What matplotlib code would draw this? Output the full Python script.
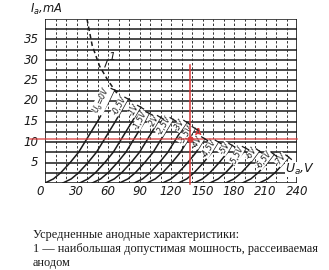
import numpy as np
import matplotlib
matplotlib.use("Agg")
import matplotlib.pyplot as plt
from matplotlib.lines import Line2D

# ── Data ─────────────────────────────────────────────────────────────────────
grid_labels = ["U$_g$=0V", "-0,5V", "-1V", "-1,5V", "-2V", "-2,5V", "-3V",
               "-3,5V", "-4V", "-4,5V", "-5V", "-5,5V", "-6V", "-6,5V", "-7V"]

# anode current (mA) and anode voltage (V) along each curve
curve_ia = [
    [0, 1, 2.5, 5, 7.5, 10, 12.5, 15, 17.5, 20, 22.7],
    [0, 1, 2.5, 5, 7.5, 10, 12.5, 15, 17.5, 20.5],
    [0, 1, 2.5, 5, 7.5, 10, 12.5, 15, 18.5],
    [0, 1, 2.5, 5, 7.5, 10, 12.5, 15, 17],
    [0, 1, 2.5, 5, 7.5, 10, 12.5, 16],
    [0, 1, 2.5, 5, 7.5, 10, 12.5, 15.5],
    [0, 1, 2.5, 5, 7.5, 10, 12.5, 14.8],
    [0, 1, 2.5, 5, 7.5, 10, 13.3],
    [0, 1, 2.5, 5, 7.5, 10.8],
    [0, 1, 2.5, 5, 7.5, 10],
    [0, 1, 2.5, 5, 7.5, 9.2],
    [0, 1, 2.5, 5, 7.5, 8.5],
    [0, 1, 2.5, 5, 7.8],
    [0, 1, 2.5, 5, 7],
    [0, 1, 2.5, 5, 6.3],
]
curve_ua = [
    [0, 8, 15, 24, 32, 38, 44, 50, 55.5, 61, 66],
    [17, 25, 32, 41, 49, 55, 61, 67, 72.5, 79],
    [33, 41, 48, 57, 65, 71, 77, 83, 91],
    [45, 53, 60, 69, 77, 83, 89, 95, 99],
    [58, 66, 73, 82, 90, 96, 102, 110],
    [71, 79, 86, 95, 103, 109, 115, 122],
    [85, 93, 100, 109, 117, 123, 129, 135],
    [97, 105, 112, 121, 129, 135, 143],
    [112, 120, 127, 136, 144, 152],
    [127, 135, 142, 151, 159, 165],
    [142, 150, 157, 166, 174, 178],
    [157, 165, 172, 181, 189, 191],
    [172, 180, 187, 196, 204],
    [188, 196, 203, 212, 218],
    [204, 212, 219, 228, 232],
]

# curve 1 - max. anode dissipation
limit_ua = [40, 45, 52, 60, 69]
limit_ia = [40, 33.5, 28.5, 25, 21.7]

# working point A
point_a = (138, 10.7)

x_ticks = [0, 30, 60, 90, 120, 150, 180, 210, 240]
y_ticks = [5, 10, 15, 20, 25, 30, 35]

caption = ["Усредненные анодные характеристики:",
           "1 — наибольшая допустимая мошность, рассеиваемая",
           "анодом"]

# ── Figure ───────────────────────────────────────────────────────────────────
fig = plt.figure(figsize=(3.29, 2.70), dpi=100)
ax = fig.add_axes([45 / 329, 87 / 270, 252 / 329, 164 / 270])
ax.set_xlim(0, 240)
ax.set_ylim(0, 40)
ax.axis("off")

ink = "#1a1a1a"
red = "#d83a3a"
tick_font = dict(family=["Liberation Sans Narrow", "DejaVu Sans"],
                 style="italic", fontsize=8.5, color=ink)

# grid: solid horizontal lines, dashed vertical ones
for y in np.arange(0, 40.1, 2.5):
    ax.axhline(y, color=ink, lw=1.1, zorder=1)
for x in range(10, 240, 10):
    ax.axvline(x, color="#333333", lw=0.7, ls=(0, (2.5, 2)), zorder=1)
ax.axvline(0, color=ink, lw=1.2, zorder=1)
ax.axvline(240, color=ink, lw=1.2, zorder=1)

# characteristic curves with end ticks and rotated labels
fig.canvas.draw()
to_px = ax.transData
for ia, ua, lab in zip(curve_ia, curve_ua, grid_labels):
    ax.plot(ua, ia, color=ink, lw=1.1, zorder=3)
    p1 = to_px.transform((ua[-2], ia[-2]))
    p2 = to_px.transform((ua[-1], ia[-1]))
    d = (p2 - p1) / np.hypot(*(p2 - p1))
    n = np.array([-d[1], d[0]])
    ends = np.array([p2 - n * 3.5, p2 + n * 3.5])
    fig.lines.append(Line2D(ends[:, 0], ends[:, 1], transform=None,
                            color=ink, lw=0.9, zorder=4))
    ang = np.degrees(np.arctan2(d[1], d[0]))
    ax.text(ua[-1], ia[-1], lab, rotation=ang, rotation_mode="anchor",
            ha="right", va="bottom", fontsize=5.6, style="italic",
            color=ink, zorder=5,
            bbox=dict(facecolor="white", edgecolor="none", pad=0.05))

# dissipation limit
ax.plot(limit_ua, limit_ia, color=ink, lw=1.1, ls=(0, (3, 2)), zorder=3)
ax.plot([57, 59.5], [28.3, 30], color=ink, lw=0.8, zorder=3)
ax.text(60.5, 29.6, "1", fontsize=8, style="italic", color=ink,
        ha="left", va="bottom", zorder=5)

# working point A
ax.plot([point_a[0], point_a[0]], [-0.3, 28.8], color=red, lw=1.1, zorder=6,
        clip_on=False)
ax.plot([-14, 240], [point_a[1], point_a[1]], color=red, lw=1.2, alpha=0.75,
        zorder=6, clip_on=False)
ax.plot(*point_a, "o", color=red, ms=3.5, zorder=7)
ax.text(point_a[0] + 5, point_a[1] + 1.0, "A", color=red, fontsize=6,
        fontweight="bold", zorder=7)

# tick labels and axis titles
for x in x_ticks:
    ax.text(x - 5 if x == 0 else x, -0.5, str(x), ha="center", va="top",
            clip_on=False, **tick_font)
for y in y_ticks:
    ax.text(-6, y, str(y), ha="right", va="center", clip_on=False,
            **tick_font)
ax.text(-14, 40.4, "I$_a$,mA", ha="left", va="bottom", clip_on=False,
        family=tick_font["family"], style="italic", fontsize=8.3, color=ink)
ax.text(229, 1.5, "U$_a$,V", ha="left", va="bottom", clip_on=False,
        fontsize=9, style="italic", color=ink, zorder=8,
        bbox=dict(facecolor="white", edgecolor="none", pad=0.2))

# caption below
for i, line in enumerate(caption):
    fig.text(33 / 329, 1 - (235 + 14 * i) / 270, line, ha="left",
             va="center", fontsize=8.8, family="Liberation Serif",
             color=ink)

fig.savefig("out.png", dpi=100)
